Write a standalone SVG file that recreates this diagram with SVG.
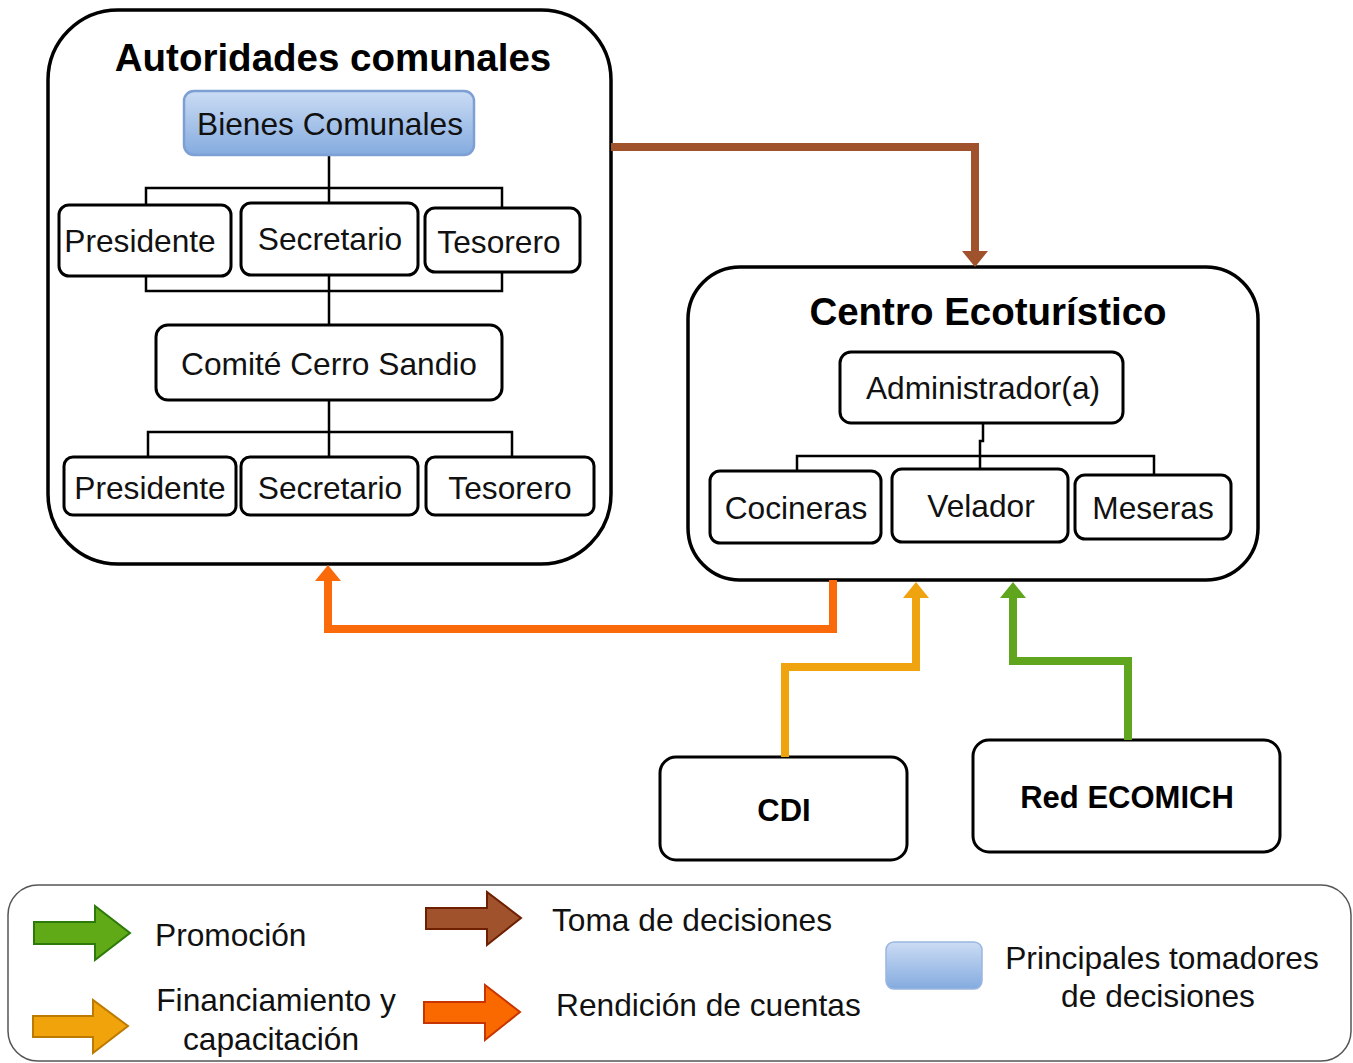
<svg xmlns="http://www.w3.org/2000/svg" width="1353" height="1063" viewBox="0 0 1353 1063">
<defs>
<linearGradient id="blue" x1="0" y1="0" x2="0" y2="1">
<stop offset="0" stop-color="#cbdcf4"/>
<stop offset="1" stop-color="#84abdf"/>
</linearGradient>
<marker id="hBrown" viewBox="0 0 16 26" refX="0" refY="13" markerWidth="16" markerHeight="26" markerUnits="userSpaceOnUse" orient="auto"><path d="M0,0 L16,13 L0,26 Z" fill="#a0522d"/></marker>
<marker id="hOrange" viewBox="0 0 16 26" refX="0" refY="13" markerWidth="16" markerHeight="26" markerUnits="userSpaceOnUse" orient="auto"><path d="M0,0 L16,13 L0,26 Z" fill="#fa6a0a"/></marker>
<marker id="hAmber" viewBox="0 0 16 26" refX="0" refY="13" markerWidth="16" markerHeight="26" markerUnits="userSpaceOnUse" orient="auto"><path d="M0,0 L16,13 L0,26 Z" fill="#eea30f"/></marker>
<marker id="hGreen" viewBox="0 0 16 26" refX="0" refY="13" markerWidth="16" markerHeight="26" markerUnits="userSpaceOnUse" orient="auto"><path d="M0,0 L16,13 L0,26 Z" fill="#5fa51e"/></marker>
</defs>
<style>
.big{fill:#fff;stroke:#000;stroke-width:3.5}
.box{fill:#fff;stroke:#000;stroke-width:3}
.t{font-family:"Liberation Sans",Arial,sans-serif;font-size:31.7px;fill:#111;text-anchor:middle}
.title{font-family:"Liberation Sans",Arial,sans-serif;font-size:38.5px;font-weight:bold;fill:#000;text-anchor:middle}
.bt{font-family:"Liberation Sans",Arial,sans-serif;font-size:31px;font-weight:bold;fill:#000;text-anchor:middle}
.lg{font-family:"Liberation Sans",Arial,sans-serif;font-size:31.7px;fill:#111}
.tree{fill:none;stroke:#000;stroke-width:2.5}
.conn{fill:none;stroke-width:8;stroke-linejoin:miter}
</style>
<rect width="1353" height="1063" fill="#fff"/>

<g id="autoridades">
<rect class="big" x="48" y="10" width="563" height="554" rx="70" ry="70"/>
<text class="title" x="333" y="71">Autoridades comunales</text>
</g>
<g id="centro">
<rect class="big" x="688" y="267" width="570" height="313" rx="52" ry="52"/>
<text class="title" x="988" y="325">Centro Ecoturístico</text>
</g>

<g id="tree-lines">
<path class="tree" d="M329,155 V203 M146,205 V188 H502 V208 M146,276 V291 H502 V272 M329,275 V325"/>
<path class="tree" d="M329,400 V457 M148,457 V432 H512 V457"/>
<path class="tree" d="M983,423 V441 H980 V469 M797,471 V456 H1154 V475"/>
</g>

<g id="bienes">
<rect x="184" y="91" width="290" height="64" rx="10" fill="url(#blue)" stroke="#7d9fd3" stroke-width="2.5"/>
<text class="t" x="330" y="135">Bienes Comunales</text>
</g>
<g id="presidente1"><rect class="box" x="59" y="205" width="172" height="71" rx="10"/><text class="t" x="140" y="252">Presidente</text></g>
<g id="secretario1"><rect class="box" x="241" y="203" width="177" height="72" rx="10"/><text class="t" x="330" y="250">Secretario</text></g>
<g id="tesorero1"><rect class="box" x="425" y="208" width="155" height="64" rx="10"/><text class="t" x="499" y="253">Tesorero</text></g>
<g id="comite"><rect class="box" x="156" y="325" width="346" height="75" rx="12"/><text class="t" x="329" y="375">Comité Cerro Sandio</text></g>
<g id="presidente2"><rect class="box" x="64" y="457" width="172" height="58" rx="9"/><text class="t" x="150" y="499">Presidente</text></g>
<g id="secretario2"><rect class="box" x="241" y="457" width="177" height="58" rx="9"/><text class="t" x="330" y="499">Secretario</text></g>
<g id="tesorero2"><rect class="box" x="426" y="457" width="168" height="58" rx="9"/><text class="t" x="510" y="499">Tesorero</text></g>

<g id="administrador"><rect class="box" x="840" y="352" width="283" height="71" rx="11"/><text class="t" x="983" y="399">Administrador(a)</text></g>
<g id="cocineras"><rect class="box" x="710" y="471" width="171" height="72" rx="10"/><text class="t" x="796" y="519">Cocineras</text></g>
<g id="velador"><rect class="box" x="892" y="469" width="176" height="73" rx="10"/><text class="t" x="981" y="517">Velador</text></g>
<g id="meseras"><rect class="box" x="1075" y="475" width="156" height="64" rx="10"/><text class="t" x="1153" y="519">Meseras</text></g>

<g id="cdi"><rect class="box" x="660" y="757" width="247" height="103" rx="16"/><text class="bt" x="784" y="821">CDI</text></g>
<g id="ecomich"><rect class="box" x="973" y="740" width="307" height="112" rx="16"/><text class="bt" x="1127" y="808">Red ECOMICH</text></g>

<g id="connectors">
<polyline class="conn" stroke="#a0522d" points="611,147 975,147 975,251" marker-end="url(#hBrown)"/>
<polyline class="conn" stroke="#fa6a0a" points="833,580 833,629 328,629 328,581" marker-end="url(#hOrange)"/>
<polyline class="conn" stroke="#eea30f" points="785,757 785,667 916,667 916,598" marker-end="url(#hAmber)"/>
<polyline class="conn" stroke="#5fa51e" points="1128,740 1128,661 1013,661 1013,598" marker-end="url(#hGreen)"/>
</g>

<g id="legend">
<rect x="8" y="885" width="1343" height="176" rx="30" ry="30" fill="#fff" stroke="#555" stroke-width="1.5"/>
<polygon points="34,922 95,922 95,906 130,933 95,960 95,944 34,944" fill="#60a917" stroke="#2d7a0a" stroke-width="2"/>
<text class="lg" x="155" y="946">Promoción</text>
<polygon points="33,1016 93,1016 93,1000 128,1026 93,1053 93,1037 33,1037" fill="#f0a30a" stroke="#bd7a00" stroke-width="2"/>
<text class="lg" x="276" y="1011" text-anchor="middle">Financiamiento y</text>
<text class="lg" x="271" y="1050" text-anchor="middle">capacitación</text>
<polygon points="426,908 487,908 487,892 521,918 487,945 487,929 426,929" fill="#a0522d" stroke="#6d1f00" stroke-width="2"/>
<text class="lg" x="552" y="931">Toma de decisiones</text>
<polygon points="424,1002 485,1002 485,985 520,1012 485,1040 485,1023 424,1023" fill="#fa6800" stroke="#c73500" stroke-width="2"/>
<text class="lg" x="556" y="1016">Rendición de cuentas</text>
<rect x="886" y="942" width="96" height="47" rx="8" fill="url(#blue)" stroke="#9ab6e0" stroke-width="1.5"/>
<text class="lg" x="1162" y="969" text-anchor="middle">Principales tomadores</text>
<text class="lg" x="1158" y="1007" text-anchor="middle">de decisiones</text>
</g>
</svg>
